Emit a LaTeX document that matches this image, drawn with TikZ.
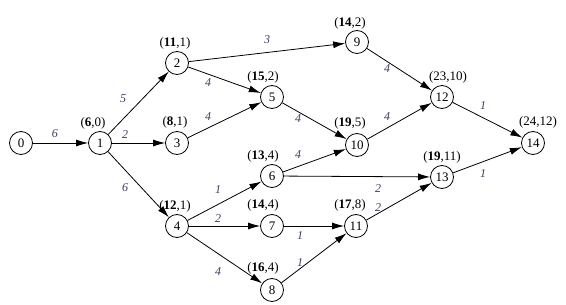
\documentclass[tikz,border=0pt]{standalone}
\usepackage{fontspec}
\setmainfont{Liberation Serif}
\usetikzlibrary{arrows.meta}
\definecolor{wcol}{rgb}{0.22,0.25,0.38}
\tikzset{
  ev/.style={circle,draw,line width=0.8pt,minimum size=23pt,inner sep=0pt,font=\fontsize{13}{13}\selectfont},
  tl/.style={font=\fontsize{13}{13}\selectfont,inner sep=0pt},
  wl/.style={font=\fontsize{12}{12}\selectfont\itshape,text=wcol,inner sep=0pt},
  ar/.style={line width=0.8pt,-{Latex[length=12pt,width=7pt]}}
}
\begin{document}
\begin{tikzpicture}[x=1pt,y=-1pt]
\useasboundingbox (0,0) rectangle (566,305);
\node[ev] (n0) at (21,143) {0};
\node[ev] (n1) at (100,143) {1};
\node[ev] (n2) at (177,63) {2};
\node[ev] (n3) at (177,143) {3};
\node[ev] (n4) at (177,226) {4};
\node[ev] (n5) at (272,97) {5};
\node[ev] (n6) at (272,176) {6};
\node[ev] (n7) at (272,226) {7};
\node[ev] (n8) at (272,290) {8};
\node[ev] (n9) at (357,42) {9};
\node[ev] (n10) at (357,145) {10};
\node[ev] (n11) at (356,226) {11};
\node[ev] (n12) at (442,97) {12};
\node[ev] (n13) at (442,177) {13};
\node[ev] (n14) at (533,143) {14};
% time labels
\node[tl] (t1) at (93,123) {(\textbf{6},0)};
\node[tl] (t2) at (175,43) {(\textbf{11},1)};
\node[tl] (t3) at (175,122) {(\textbf{8},1)};
\node[tl] (t4) at (175,206) {(\textbf{12},1)};
\node[tl] (t5) at (263,77) {(\textbf{15},2)};
\node[tl] (t6) at (263,156) {(\textbf{13},4)};
\node[tl] (t7) at (263,205) {(\textbf{14},4)};
\node[tl] (t8) at (263,268) {(\textbf{16},4)};
\node[tl] (t9) at (350,23) {(\textbf{14},2)};
\node[tl] (t10) at (350,123) {(\textbf{19},5)};
\node[tl] (t11) at (350,205) {(\textbf{17},8)};
\node[tl] (t12) at (448,77) {(23,10)};
\node[tl] (t13) at (442,157) {(\textbf{19},11)};
\node[tl] (t14) at (538,122) {(24,12)};
% edges
\draw[ar] (n0) -- (n1);
\draw[ar] (n1) -- (n2);
\draw[ar] (n1) -- (n3);
\draw[ar] (n1) -- (n4);
\draw[ar] (n2) -- (n9);
\draw[ar] (n2) -- (n5);
\draw[ar] (n3) -- (n5);
\draw[ar] (n5) -- (n10);
\draw[ar] (n4) -- (n6);
\draw[ar] (n4) -- (n7);
\draw[ar] (n4) -- (n8);
\draw[ar] (n6) -- (n10);
\draw[ar] (n6) -- (n13);
\draw[ar] (n7) -- (n11);
\draw[ar] (n8) -- (n11);
\draw[ar] (n9) -- (n12);
\draw[ar] (n10) -- (n12);
\draw[ar] (n11) -- (n13);
\draw[ar] (n12) -- (n14);
\draw[ar] (n13) -- (n14);
% weights
\node[wl] (w01) at (55,134) {6};
\node[wl] (w12) at (123,99) {5};
\node[wl] (w13) at (125,135) {2};
\node[wl] (w14) at (125,188) {6};
\node[wl] (w29) at (267,40) {3};
\node[wl] (w25) at (208,83) {4};
\node[wl] (w35) at (208,117) {4};
\node[wl] (w510) at (298,119) {4};
\node[wl] (w610) at (298,155) {4};
\node[wl] (w46) at (218,190) {1};
\node[wl] (w47) at (218,219) {2};
\node[wl] (w48) at (218,272) {4};
\node[wl] (w711) at (300,236) {1};
\node[wl] (w811) at (300,263) {1};
\node[wl] (w613) at (378,189) {2};
\node[wl] (w1113) at (378,208) {2};
\node[wl] (w912) at (387,69) {4};
\node[wl] (w1012) at (387,117) {4};
\node[wl] (w1214) at (483,106) {1};
\node[wl] (w1314) at (483,174) {1};
\end{tikzpicture}
\end{document}
